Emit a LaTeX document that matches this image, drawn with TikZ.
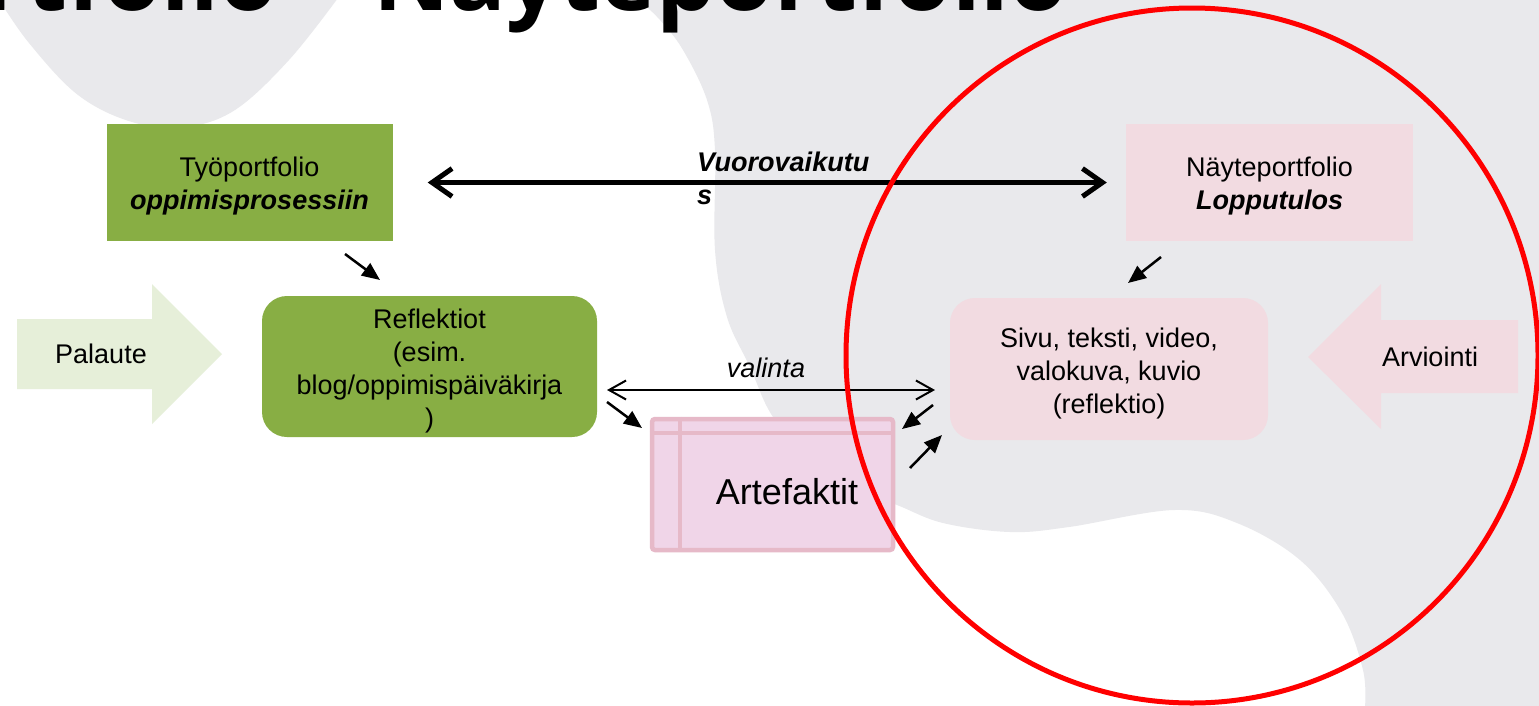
\documentclass[tikz,border=0pt]{standalone}
\usepackage{fontspec}
\setmainfont{Liberation Sans}
\newfontfamily\titlefont{Open Sans}
\usetikzlibrary{arrows.meta,calc}
\definecolor{bggray}{RGB}{233,233,236}
\definecolor{boxgreen}{RGB}{136,174,68}
\definecolor{boxpink}{RGB}{242,219,225}
\definecolor{arrgreen}{RGB}{230,239,217}
\definecolor{artfill}{RGB}{240,213,232}
\definecolor{artborder}{RGB}{230,185,200}
\definecolor{circred}{RGB}{255,0,0}
\begin{document}
\begin{tikzpicture}[x=1pt,y=-1pt,
  txt/.style={font=\fontsize{27}{33}\selectfont, align=center, inner sep=0pt},
  sqgreen/.style={fill=boxgreen, draw=none, inner sep=0pt},
  sqpink/.style={fill=boxpink, draw=none, inner sep=0pt},
  rndgreen/.style={fill=boxgreen, draw=none, rounded corners=25pt, inner sep=0pt},
  rndpink/.style={fill=boxpink, draw=none, rounded corners=25pt, inner sep=0pt},
  artbox/.style={fill=artfill, draw=artborder, line width=4.5pt, rounded corners=3pt, inner sep=0pt},
  artline/.style={draw=artborder, line width=4.5pt},
  bigarrow/.style={line width=5pt, {Straight Barb[length=20pt,width=28pt]}-{Straight Barb[length=20pt,width=28pt]}},
  thinarrow/.style={line width=2pt, {Straight Barb[length=17pt,width=19pt]}-{Straight Barb[length=17pt,width=19pt]}},
  smallarrow/.style={line width=2.5pt, -{Triangle[length=18pt,width=15pt]}},
  ring/.style={draw=circred, line width=5pt}
]
\useasboundingbox (0,0) rectangle (1539,705);
\fill[white] (0,0) rectangle (1539,705);

% background shapes
\begin{scope}
\clip (0,0) rectangle (1539,705);
\fill[bggray] plot[smooth, tension=0.6] coordinates {(637,-2) (660,20) (683,50) (707,100) (715,150) (715,250) (727,317) (750,367) (773,417) (815,465) (860,492) (897,505) (943,523) (1010,532) (1069,527) (1174,510) (1237,523) (1300,560) (1342,613) (1363,670) (1365,707)} -- (1541,707) -- (1541,-2) -- cycle;
\fill[bggray] plot[smooth, tension=0.6] coordinates {(-2,-2) (29,43) (78,95) (132,122) (185,127) (235,110) (289,60) (338,-2)} -- cycle;
% title, cut by the page top as in the reference
\node[anchor=base east, inner sep=0pt, font=\titlefont\bfseries\fontsize{94}{94}\selectfont] (title) at (1068,10) {Työportfolio – Näyteportfolio};
\end{scope}

% boxes
\node[sqgreen, minimum width=286, minimum height=117] (tyo) at (249.5,182.5) {};
\node[txt] (tyotxt) at ($(tyo.center)+(0,4)$) {Työportfolio\\\textbf{\textit{oppimisprosessiin}}};
\node[sqpink, minimum width=287, minimum height=117] (nayte) at (1269.5,182.5) {};
\node[txt] (naytetxt) at ($(nayte.center)+(0,4)$) {Näyteportfolio\\\textbf{\textit{Lopputulos}}};
\node[rndgreen, minimum width=335, minimum height=141] (refl) at (429.5,366.5) {};
\node[txt] (refltxt) at ($(refl.center)+(0,5)$) {Reflektiot\\(esim.\\blog/oppimispäiväkirja\\)};
\node[rndpink, minimum width=318, minimum height=142] (sivu) at (1109,369) {};
\node[txt] (sivutxt) at ($(sivu.center)+(0,5)$) {Sivu, teksti, video,\\valokuva, kuvio\\(reflektio)};

% side arrows
\fill[arrgreen] (17,319) -- (152,319) -- (152,284) -- (222,354) -- (152,424) -- (152,389) -- (17,389) -- cycle;
\node[txt] (palaute) at (101,354) {Palaute};
\fill[boxpink] (1308,357) -- (1381,284) -- (1381,320) -- (1518,320) -- (1518,393) -- (1381,393) -- (1381,429) -- cycle;
\node[txt] (arviointi) at (1430,357) {Arviointi};

% Artefaktit
\node[artbox, minimum width=241, minimum height=131] (art) at (772.5,484.5) {};
\draw[artline] ($(art.north west)+(0,16)$) -- ($(art.north east)+(0,16)$);
\draw[artline] ($(art.north west)+(30,0)$) -- ($(art.south west)+(30,0)$);
\node[font=\fontsize{36}{43}\selectfont, inner sep=0pt] (artlabel) at (787,492) {Artefaktit};

% interaction arrow
\draw[bigarrow, shorten <=35pt, shorten >=19pt] (tyo.east) -- (nayte.west);
\node[txt, align=left, anchor=north west, font=\fontsize{27}{33}\selectfont\bfseries\itshape] (vuoro) at (697,152) {Vuorovaikutu\\s};

% choice arrow
\coordinate (v1) at (607,390);
\coordinate (v2) at (935,390);
\draw[thinarrow] (v1) -- (v2);
\node[txt, anchor=base, font=\fontsize{27}{33}\selectfont\itshape] (valinta) at (766,377) {valinta};

% small arrows
\coordinate (a1) at (345,254); \coordinate (a2) at (380,280);
\coordinate (b1) at (1161,257); \coordinate (b2) at (1128,283);
\coordinate (c1) at (607,402); \coordinate (c2) at (642,428);
\coordinate (d1) at (933,405); \coordinate (d2) at (902,429);
\coordinate (e1) at (910,468); \coordinate (e2) at (942,435);
\draw[smallarrow] (a1) -- (a2);
\draw[smallarrow] (b1) -- (b2);
\draw[smallarrow] (c1) -- (c2);
\draw[smallarrow] (d1) -- (d2);
\draw[smallarrow] (e1) -- (e2);

% red ring
\draw[ring] (1192,355.5) ellipse [x radius=346, y radius=347.5];
\end{tikzpicture}
\end{document}
